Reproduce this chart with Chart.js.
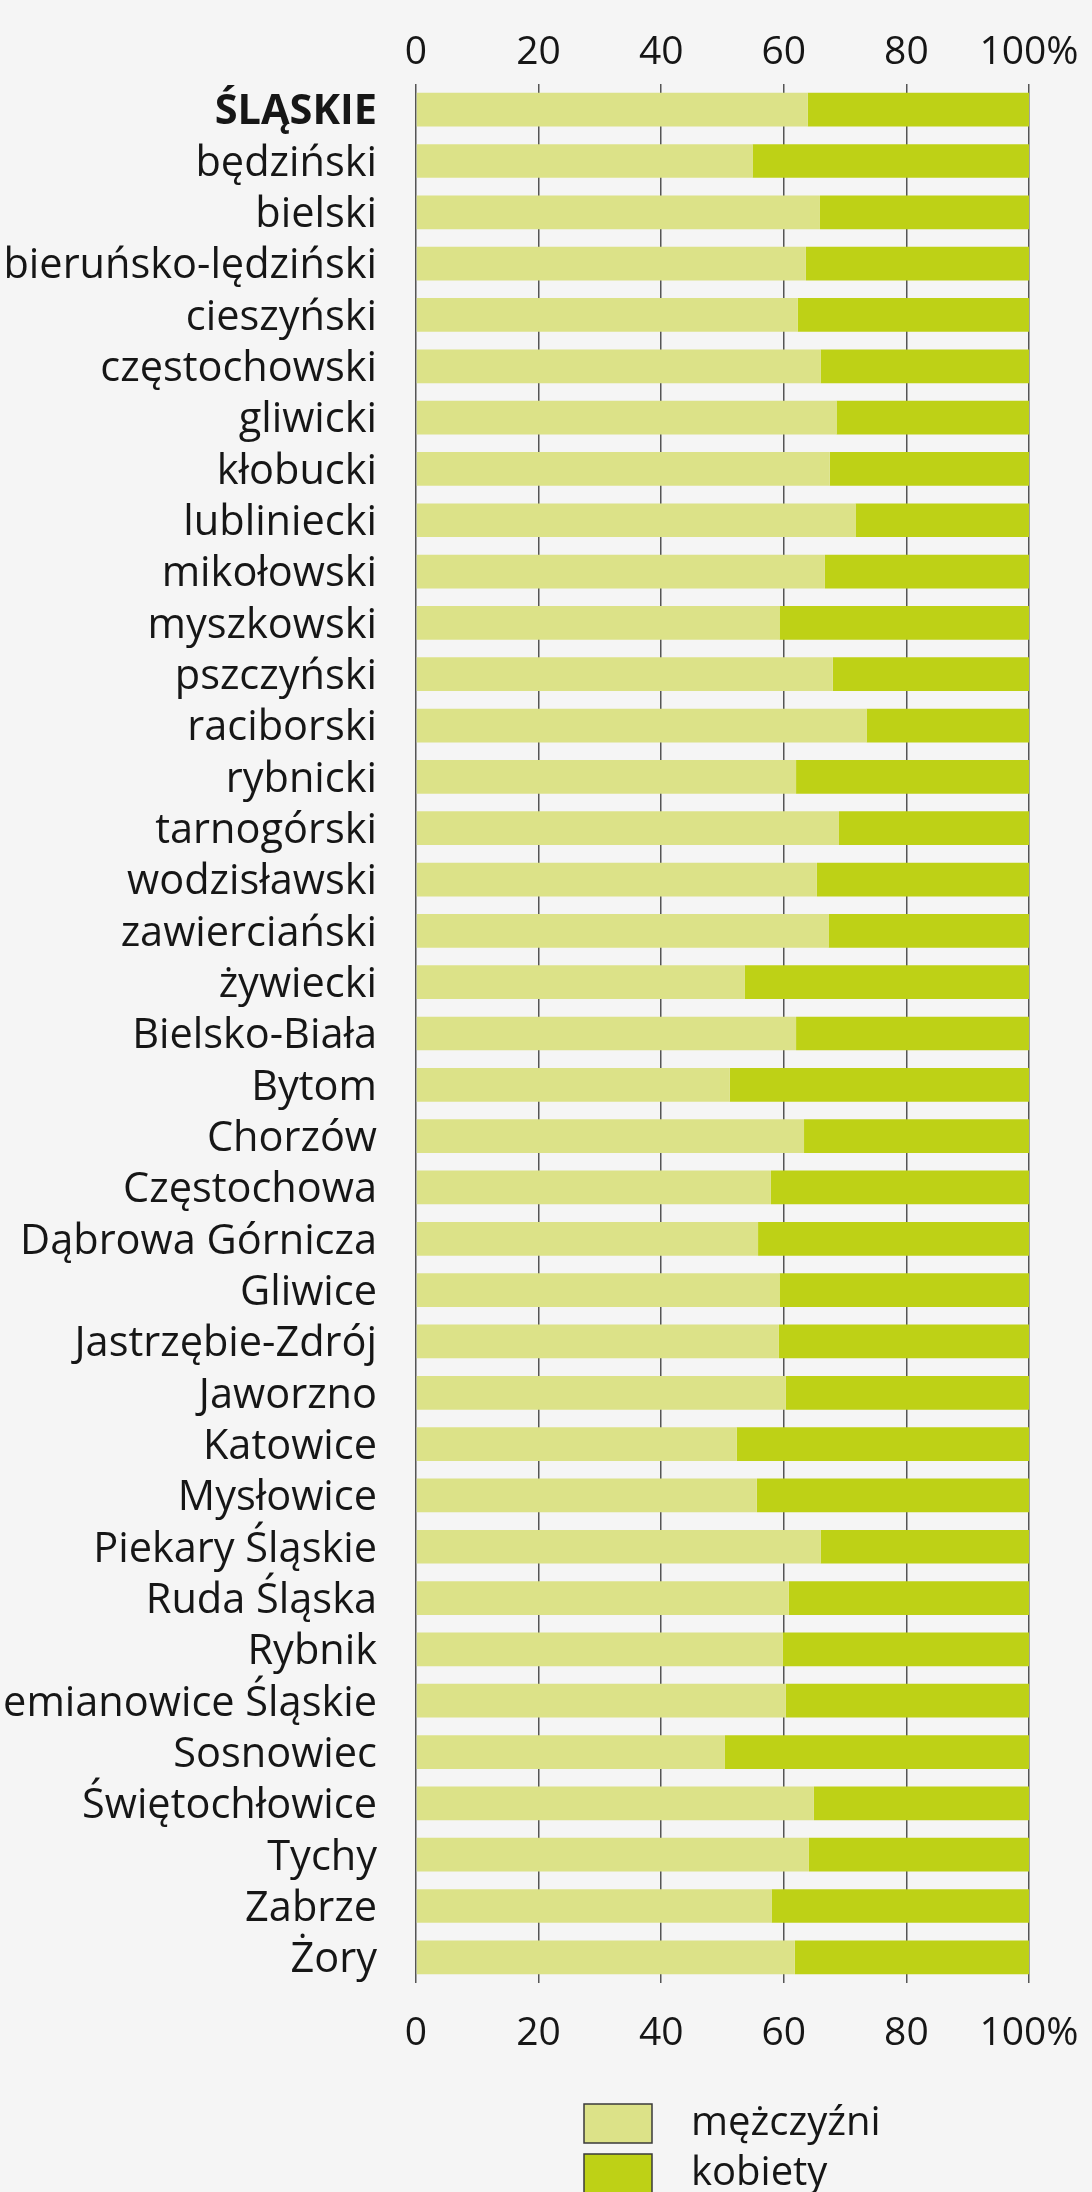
<!DOCTYPE html>
<html>
<head>
<meta charset="utf-8">
<script src="https://cdn.jsdelivr.net/npm/chart.js@4"></script>
<style>
  html, body { margin: 0; padding: 0; background: #f5f5f5; overflow: hidden; }
  #wrap { width: 1092px; height: 2192px; position: relative; }
</style>
</head>
<body>
<div id="wrap"><canvas id="genderChart"></canvas></div>
<script>
const powiaty = [
    "ŚLĄSKIE", "będziński", "bielski", "bieruńsko-lędziński", "cieszyński",
    "częstochowski", "gliwicki", "kłobucki", "lubliniecki", "mikołowski",
    "myszkowski", "pszczyński", "raciborski", "rybnicki", "tarnogórski",
    "wodzisławski", "zawierciański", "żywiecki", "Bielsko-Biała", "Bytom",
    "Chorzów", "Częstochowa", "Dąbrowa Górnicza", "Gliwice", "Jastrzębie-Zdrój",
    "Jaworzno", "Katowice", "Mysłowice", "Piekary Śląskie", "Ruda Śląska",
    "Rybnik", "Siemianowice Śląskie", "Sosnowiec", "Świętochłowice", "Tychy",
    "Zabrze", "Żory"
]

const mezczyzni = [
    63.9, 54.9, 65.9, 63.6, 62.3,
    66.0, 68.6, 67.5, 71.7, 66.7,
    59.3, 68.0, 73.5, 62.0, 69.0,
    65.4, 67.3, 53.6, 62.0, 51.2,
    63.3, 57.9, 55.8, 59.3, 59.2,
    60.3, 52.3, 55.6, 66.0, 60.8,
    59.8, 60.3, 50.4, 64.9, 64.1,
    58.0, 61.8
]

const kobiety = [
    36.1, 45.1, 34.1, 36.4, 37.7,
    34.0, 31.4, 32.5, 28.3, 33.3,
    40.7, 32.0, 26.5, 38.0, 31.0,
    34.6, 32.7, 46.4, 38.0, 48.8,
    36.7, 42.1, 44.2, 40.7, 40.8,
    39.7, 47.7, 44.4, 34.0, 39.2,
    40.2, 39.7, 49.6, 35.1, 35.9,
    42.0, 38.2
]

const tickValues = [0, 20, 40, 60, 80, 100]

const fontFamily = "'Open Sans', sans-serif"
const textColor = "#161616"
const gridColor = "#555555"

// legend drawn stacked under the bottom axis
const stackedLegend = {
    id: 'stackedLegend',
    afterDraw(chart) {
        const ctx = chart.ctx
        ctx.save()
        ctx.font = `40px ${fontFamily}`
        ctx.textBaseline = 'middle'
        chart.data.datasets.forEach((ds, i) => {
            let y = 2104 + i * 50
            ctx.fillStyle = ds.backgroundColor
            ctx.fillRect(584, y, 68, 39)
            ctx.strokeStyle = "#3a3a3a"
            ctx.lineWidth = 1.5
            ctx.strokeRect(584, y, 68, 39)
            ctx.fillStyle = textColor
            ctx.fillText(ds.label, 691, y + 20)
        })
        ctx.restore()
    }
}

const tickLabel = (value) => value === 100 ? "100%" : value

// keep the plot edges where the picture has them, whatever the label widths
const fixXAxis = (height) => (scale) => {
    scale.height = height
    scale.paddingLeft = 0
    scale.paddingRight = 0
}

let barChart = new Chart(document.getElementById("genderChart"), {
    type: 'bar',
    data: {
        labels: powiaty,
        datasets: [
            { label: "mężczyźni", data: mezczyzni, backgroundColor: "#dce288" },
            { label: "kobiety", data: kobiety, backgroundColor: "#bed116" }
        ]
    },
    options: {
        indexAxis: 'y',
        responsive: true,
        maintainAspectRatio: false,
        animation: false,
        categoryPercentage: 1,
        barPercentage: 0.657,
        layout: { padding: { top: 0, right: 63, bottom: 0, left: 0 } },
        plugins: {
            legend: { display: false },
            tooltip: { enabled: false }
        },
        scales: {
            y: {
                stacked: true,
                grid: { display: false, drawTicks: false },
                border: { display: false },
                ticks: {
                    padding: 39,
                    labelOffset: 3,
                    color: textColor,
                    autoSkip: false,
                    font: (c) => ({
                        family: fontFamily,
                        size: 41.5,
                        weight: c.index === 0 ? 'bold' : 'normal'
                    })
                },
                afterFit: (scale) => { scale.width = 416 }
            },
            x: {
                position: 'top',
                stacked: true,
                min: 0,
                max: 100,
                afterBuildTicks: (scale) => { scale.ticks = tickValues.map(v => ({ value: v })) },
                grid: { display: true, drawTicks: false, color: gridColor, lineWidth: 1.5 },
                border: { display: false },
                ticks: {
                    padding: 8,
                    color: textColor,
                    maxRotation: 0,
                    font: { family: fontFamily, size: 39 },
                    callback: tickLabel
                },
                afterFit: fixXAxis(84)
            },
            xBottom: {
                type: 'linear',
                axis: 'x',
                position: 'bottom',
                min: 0,
                max: 100,
                afterBuildTicks: (scale) => { scale.ticks = tickValues.map(v => ({ value: v })) },
                grid: { display: false, drawTicks: false },
                border: { display: false },
                ticks: {
                    padding: 27,
                    color: textColor,
                    maxRotation: 0,
                    font: { family: fontFamily, size: 39 },
                    callback: tickLabel
                },
                afterFit: fixXAxis(209)
            }
        }
    },
    plugins: [stackedLegend]
})
</script>
</body>
</html>
